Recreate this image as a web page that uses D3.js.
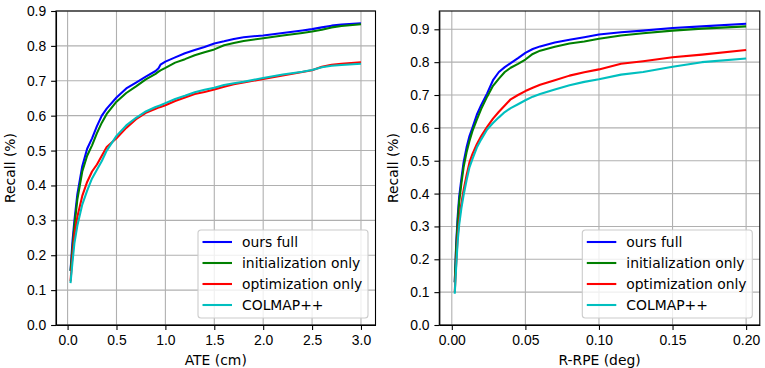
<!DOCTYPE html>
<html lang="en">
<head>
<meta charset="utf-8">
<title>Recall curves</title>
<script src="https://cdnjs.cloudflare.com/ajax/libs/d3/7.8.5/d3.min.js"></script>
<style>
body { margin: 0; background: #fff; }
svg { font-family: "DejaVu Sans", sans-serif; }
.grid line { stroke: #b0b0b0; stroke-width: 1.1; }
.axis path, .axis line { stroke: #000; stroke-width: 1.1; }
.axis text { font-size: 13.9px; fill: #000; }
.label { font-size: 13.9px; fill: #000; }
.curve { fill: none; stroke-width: 2.08; stroke-linejoin: round; }
</style>
</head>
<body>
<div id="chart"></div>
<script>

const W = 765, H = 368;

const seriesNames = ["ours full", "initialization only", "optimization only", "COLMAP++"];
const colors = ["#0000ff", "#008000", "#ff0000", "#00bfbf"];

// left panel: ATE (cm)
const ateX = [0.03, 0.05, 0.07, 0.1, 0.15, 0.2, 0.25, 0.3, 0.35, 0.4, 0.5, 0.6, 0.7, 0.8, 0.9, 0.93, 0.95, 1.0,
              1.1, 1.2, 1.3, 1.4, 1.5, 1.6, 1.7, 1.8, 2.0, 2.2, 2.4, 2.5, 2.6, 2.7, 2.8, 3.0];
const ateOurs = [0.155, 0.24, 0.30, 0.375, 0.455, 0.505, 0.535, 0.57, 0.60, 0.62, 0.652, 0.678, 0.695, 0.712, 0.728, 0.736, 0.746, 0.755,
                 0.767, 0.779, 0.788, 0.797, 0.807, 0.813, 0.82, 0.825, 0.83, 0.837, 0.844, 0.848, 0.853, 0.858, 0.861, 0.865];
const ateInit = [0.155, 0.22, 0.285, 0.36, 0.44, 0.485, 0.515, 0.55, 0.58, 0.605, 0.64, 0.665, 0.684, 0.704, 0.72, 0.726, 0.73, 0.737,
                 0.752, 0.762, 0.773, 0.782, 0.79, 0.802, 0.808, 0.814, 0.822, 0.83, 0.837, 0.841, 0.846, 0.853, 0.857, 0.862];
const ateOpt = [0.125, 0.2, 0.26, 0.31, 0.37, 0.41, 0.44, 0.46, 0.485, 0.51, 0.535, 0.565, 0.59, 0.608, 0.62, 0.623, 0.625, 0.63,
                0.642, 0.652, 0.662, 0.668, 0.675, 0.683, 0.69, 0.695, 0.705, 0.715, 0.725, 0.73, 0.74, 0.746, 0.749, 0.753];
const ateColmap = [0.12, 0.18, 0.235, 0.285, 0.345, 0.385, 0.42, 0.445, 0.47, 0.5, 0.542, 0.572, 0.594, 0.612, 0.625, 0.628, 0.63, 0.636,
                   0.648, 0.657, 0.667, 0.674, 0.68, 0.688, 0.693, 0.697, 0.708, 0.718, 0.726, 0.731, 0.739, 0.743, 0.745, 0.749];

// right panel: R-RPE (deg)
const rpeX = [0.002, 0.003, 0.004, 0.005, 0.0065, 0.008, 0.01, 0.012, 0.014, 0.017, 0.02, 0.024, 0.028, 0.032, 0.036, 0.04,
              0.045, 0.05, 0.055, 0.06, 0.07, 0.08, 0.09, 0.1, 0.115, 0.13, 0.15, 0.17, 0.2];
const rpeOurs = [0.13, 0.25, 0.33, 0.39, 0.445, 0.495, 0.54, 0.575, 0.60, 0.64, 0.67, 0.705, 0.745, 0.77, 0.785, 0.797,
                 0.812, 0.828, 0.84, 0.848, 0.86, 0.868, 0.876, 0.884, 0.891, 0.896, 0.904, 0.909, 0.917];
const rpeInit = [0.13, 0.24, 0.315, 0.375, 0.43, 0.48, 0.525, 0.56, 0.59, 0.625, 0.658, 0.695, 0.728, 0.75, 0.77, 0.783,
                 0.795, 0.808, 0.825, 0.835, 0.847, 0.857, 0.863, 0.871, 0.881, 0.888, 0.896, 0.902, 0.909];
const rpeOpt = [0.10, 0.19, 0.27, 0.32, 0.37, 0.41, 0.455, 0.495, 0.52, 0.55, 0.575, 0.603, 0.628, 0.649, 0.668, 0.687,
                0.70, 0.712, 0.722, 0.731, 0.745, 0.759, 0.769, 0.778, 0.795, 0.803, 0.815, 0.823, 0.837];
const rpeColmap = [0.095, 0.18, 0.255, 0.305, 0.355, 0.395, 0.44, 0.48, 0.505, 0.54, 0.565, 0.595, 0.615, 0.632, 0.648, 0.66,
                   0.672, 0.684, 0.695, 0.703, 0.717, 0.73, 0.74, 0.748, 0.762, 0.77, 0.786, 0.8, 0.811];

const ateTicks = [0, 0.5, 1.0, 1.5, 2.0, 2.5, 3.0];
const rpeTicks = [0, 0.05, 0.1, 0.15, 0.2];
const ateYTicks = [0, 0.1, 0.2, 0.3, 0.4, 0.5, 0.6, 0.7, 0.8, 0.9];
const rpeYTicks = [0, 0.1, 0.2, 0.3, 0.4, 0.5, 0.6, 0.7, 0.8, 0.9];

const svg = d3.select("#chart").append("svg")
  .attr("width", W)
  .attr("height", H);

function drawPanel(p) {
  const x = d3.scaleLinear().domain(p.xDomain).range([p.left, p.right]);
  const y = d3.scaleLinear().domain(p.yDomain).range([p.bottom, p.top]);

  const g = svg.append("g");

  // grid
  const grid = g.append("g").attr("class", "grid");
  grid.selectAll(".vx").data(p.xTicks).enter().append("line")
    .attr("x1", d => x(d)).attr("x2", d => x(d))
    .attr("y1", p.top).attr("y2", p.bottom);
  grid.selectAll(".hy").data(p.yTicks).enter().append("line")
    .attr("x1", p.left).attr("x2", p.right)
    .attr("y1", d => y(d)).attr("y2", d => y(d));

  // curves
  const line = d3.line()
    .x((d, i) => x(p.xs[i]))
    .y(d => y(d));
  p.series.forEach((s, k) => {
    g.append("path")
      .datum(s)
      .attr("class", "curve")
      .attr("stroke", colors[k])
      .attr("d", line);
  });

  // axes
  const xAxis = d3.axisBottom(x).tickValues(p.xTicks).tickFormat(d3.format(p.xFmt))
    .tickSizeInner(4.9).tickSizeOuter(0).tickPadding(4.9);
  const yAxis = d3.axisLeft(y).tickValues(p.yTicks).tickFormat(d3.format(".1f"))
    .tickSizeInner(4.9).tickSizeOuter(0).tickPadding(4.9);
  g.append("g").attr("class", "axis")
    .attr("transform", "translate(0," + p.bottom + ")")
    .call(xAxis);
  g.append("g").attr("class", "axis")
    .attr("transform", "translate(" + p.left + ",0)")
    .call(yAxis);

  // frame
  g.append("rect")
    .attr("x", p.left).attr("y", p.top)
    .attr("width", p.right - p.left).attr("height", p.bottom - p.top)
    .attr("fill", "none").attr("stroke", "#000").attr("stroke-width", 1.1);

  // labels
  g.append("text").attr("class", "label")
    .attr("x", (p.left + p.right) / 2).attr("y", 365)
    .attr("text-anchor", "middle")
    .text(p.xLabel);
  g.append("text").attr("class", "label")
    .attr("transform", "translate(" + (p.left - 41) + "," + ((p.top + p.bottom) / 2) + ") rotate(-90)")
    .attr("text-anchor", "middle")
    .text("Recall (%)");

  // legend
  const lw = 170, lh = 88;
  const lx = p.right - 7.5 - lw, ly = p.bottom - 7 - lh;
  const leg = g.append("g").attr("transform", "translate(" + lx + "," + ly + ")");
  leg.append("rect")
    .attr("width", lw).attr("height", lh).attr("rx", 3)
    .attr("fill", "#fff").attr("fill-opacity", 0.8)
    .attr("stroke", "#cccccc").attr("stroke-width", 1.1);
  const rows = leg.selectAll(".row").data(seriesNames).enter().append("g")
    .attr("transform", (d, i) => "translate(0," + (12 + i * 21) + ")");
  rows.append("line")
    .attr("x1", 4.5).attr("x2", 34)
    .attr("stroke", (d, i) => colors[i]).attr("stroke-width", 2.08);
  rows.append("text").attr("class", "label")
    .attr("x", 44).attr("y", 5)
    .text(d => d);
}

drawPanel({
  left: 56, right: 375.5, top: 11, bottom: 325,
  xDomain: [-0.1185, 3.1485], yDomain: [0, 0.9],
  xTicks: ateTicks, yTicks: ateYTicks, xFmt: ".1f",
  xs: ateX, series: [ateOurs, ateInit, ateOpt, ateColmap],
  xLabel: "ATE (cm)"
});

drawPanel({
  left: 439.3, right: 759.8, top: 11, bottom: 325,
  xDomain: [-0.0085, 0.2093], yDomain: [0, 0.9557],
  xTicks: rpeTicks, yTicks: rpeYTicks, xFmt: ".2f",
  xs: rpeX, series: [rpeOurs, rpeInit, rpeOpt, rpeColmap],
  xLabel: "R-RPE (deg)"
});

</script>
</body>
</html>
